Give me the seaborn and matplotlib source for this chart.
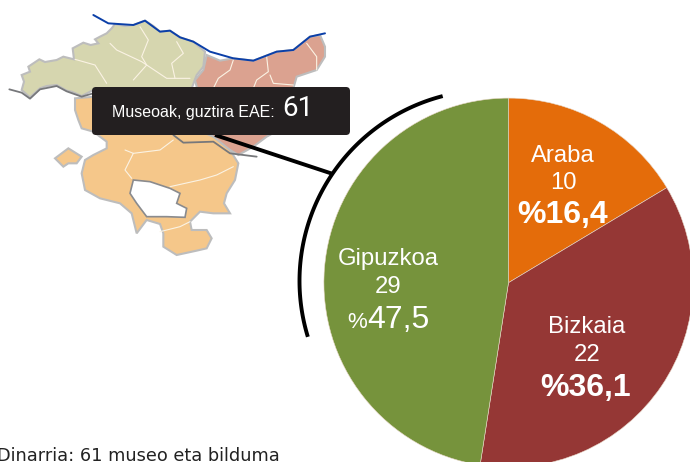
import numpy as np
import matplotlib
matplotlib.use("Agg")
import matplotlib.pyplot as plt
from matplotlib.patches import FancyBboxPatch, Polygon
import seaborn as sns

# pie data
regions = ["Araba", "Bizkaia", "Gipuzkoa"]
counts = [10, 22, 29]
shares = ["%16,4", "%36,1", "47,5"]
pie_colors = ["#E46C0A", "#953735", "#76933C"]

total_label = "Museoak, guztira EAE:"
total_value = "61"
footer = "Dinarria: 61 museo eta bilduma"

# map outlines, traced on a 3x crop of the picture
bizkaia_map = [(65,225),(90,215),(85,200),(118,178),(135,186),(170,180),(190,170),(222,178),(218,145),(250,128),
               (272,135),(295,130),(285,118),(300,110),(320,100),(335,85),(345,72),(375,78),(400,75),(435,62),
               (460,78),(480,95),(510,92),(540,112),(580,125),(615,155),(610,200),(590,225),(575,265),(280,270),
               (245,288),(215,275),(200,272),(170,255),(140,258),(120,265),(90,292),(65,270),(72,245)]
gipuzkoa_map = [(620,165),(660,182),(700,175),(760,182),(830,155),(880,150),(930,110),(960,105),(975,140),
                (975,170),(950,210),(890,230),(880,265),(1000,300),(800,410),(760,440),(715,465),(690,450),
                (640,420),(600,300),(585,240),(610,210)]
araba_map = [(225,295),(285,290),(500,350),(640,410),(690,450),(715,490),(705,540),(680,580),(672,610),(690,640),
             (640,640),(600,635),(570,665),(575,690),(620,690),(635,715),(620,745),(590,752),(530,765),(490,740),
             (490,700),(480,672),(440,660),(410,700),(395,640),(360,610),(300,595),(255,570),(245,520),(255,480),
             (280,465),(320,445),(320,425),(280,395),(245,385),(235,360),(225,330)]
araba_enclave = [(165,475),(205,445),(245,470),(230,490),(205,490),(190,500)]
hole_map = [(400,540),(450,545),(510,565),(540,580),(530,610),(560,625),(555,652),(500,650),(440,650),
            (410,610),(390,580)]
coast_line = [(280,45),(325,70),(400,75),(435,62),(480,95),(510,92),(540,112),(580,125),(630,155),(700,175),
              (760,182),(830,155),(880,150),(930,110),(975,100)]
border_line = [(28,268),(65,278),(90,296),(120,268),(170,258),(200,274),(245,290),(280,280)]
river_line = [(520,405),(550,428),(640,425),(690,460),(770,470)]
inner_lines = [
    [(420,80),(445,120),(425,170),(440,195),(400,240)],
    [(225,178),(285,195),(320,250)],
    [(330,130),(350,150),(425,185),(470,215),(500,235),(570,235)],
    [(530,125),(550,160),(515,190),(525,235)],
    [(700,180),(690,210),(655,235),(640,265)],
    [(800,170),(805,215),(770,240),(760,265)],
    [(920,130),(950,170),(950,210)],
    [(810,225),(820,250),(880,255)],
    [(375,450),(400,460),(375,510),(395,535)],
    [(400,460),(480,450),(520,420)],
    [(510,560),(600,540),(650,525),(700,500)],
    [(480,695),(540,680),(570,665)],
]


def px(points):
    return [(x / 3, y / 3) for x, y in points]


sns.set_theme(style="white")
plt.rcParams["font.family"] = ["Liberation Sans", "DejaVu Sans"]

W, H = 690, 462
fig = plt.figure(figsize=(6.9, 4.62), dpi=100)

ax = fig.add_axes([0, 0, 1, 1], zorder=1)
ax.set_xlim(0, W)
ax.set_ylim(H, 0)
ax.axis("off")

# map
edge = "#BDBDBD"
ax.add_patch(Polygon(px(bizkaia_map), fc="#D6D6AF", ec=edge, lw=1.5))
ax.add_patch(Polygon(px(gipuzkoa_map), fc="#DBA290", ec=edge, lw=1.5))
ax.add_patch(Polygon(px(araba_map), fc="#F5C78A", ec=edge, lw=1.5))
ax.add_patch(Polygon(px(araba_enclave), fc="#F5C78A", ec=edge, lw=1.5))
ax.add_patch(Polygon(px(hole_map), fc="white", ec="#8A8B8E", lw=1.2))
for line in inner_lines:
    xs, ys = zip(*px(line))
    ax.plot(xs, ys, color="#FBF3E4", lw=0.8)
for line, col, w in [(border_line, "#77787B", 1.3), (river_line, "#77787B", 1.3), (coast_line, "#0B3FA8", 1.4)]:
    xs, ys = zip(*px(line))
    ax.plot(xs, ys, color=col, lw=w)

# callout
ax.plot([215, 333], [135, 174], color="black", lw=2.8, solid_capstyle="butt")
t = np.radians(np.linspace(163, 255.5, 100))
ax.plot(490.5 + 191 * np.cos(t), 281 + 191 * np.sin(t), color="black", lw=2.8, solid_capstyle="butt")
ax.add_patch(FancyBboxPatch((95, 90), 252, 42, boxstyle="round,pad=3,rounding_size=4", fc="#231F20", ec="none", zorder=3))
ax.text(112, 116.5, total_label, color="white", fontsize=11.5, va="baseline", ha="left", zorder=4)
ax.text(282, 116.5, total_value, color="white", fontsize=20, family=["Roboto", "DejaVu Sans"],
        va="baseline", ha="left", zorder=4)

# pie
R = 184.6
cx, cy = 508.5, 282.7
pie_ax = fig.add_axes([(cx - R) / W, 1 - (cy + R) / H, 2 * R / W, 2 * R / H], zorder=2)
pie_ax.pie(counts, colors=pie_colors, startangle=90, counterclock=False, radius=1,
           wedgeprops={"edgecolor": "#E8D8C8", "linewidth": 0.4})
pie_ax.set_xlim(-1, 1)
pie_ax.set_ylim(-1, 1)

# labels sit on top of the pie
lab = fig.add_axes([0, 0, 1, 1], zorder=3)
lab.set_xlim(0, W)
lab.set_ylim(H, 0)
lab.axis("off")
name_x = [563, 587, 388]
name_y = [161.7, 332.7, 265]
count_y = [189, 360.7, 292.7]
for i in range(3):
    lab.text(name_x[i], name_y[i], regions[i], color="white", fontsize=17.2, ha="center", va="baseline")
    lab.text(name_x[i], count_y[i], str(counts[i]), color="white", fontsize=17.2, ha="center", va="baseline")
lab.text(563, 223.3, shares[0], color="white", fontsize=23, weight="bold", ha="center", va="baseline")
lab.text(586, 396, shares[1], color="white", fontsize=23, weight="bold", ha="center", va="baseline")
lab.text(347, 328.3, "%", color="white", fontsize=16, ha="left", va="baseline")
lab.text(367, 328.3, shares[2], color="white", fontsize=23, ha="left", va="baseline")

lab.text(-3, 461, footer, color="#222222", fontsize=12.75, family=["DejaVu Sans"], ha="left", va="baseline")

fig.savefig("out.png", dpi=100)
